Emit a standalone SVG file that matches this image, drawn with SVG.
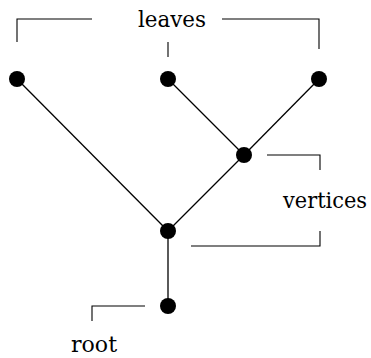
<svg xmlns="http://www.w3.org/2000/svg" width="371" height="358" viewBox="0 0 371 358">
<style>
.e{stroke:#000;stroke-width:1.3;fill:none}
.b{stroke:#000;stroke-width:1.1;fill:none}
.n{fill:#000}
.t{font-family:"DejaVu Serif",serif;font-size:23px;fill:#000}
</style>
<rect width="371" height="358" fill="#fff"/>
<g id="connectors">
<line class="e" x1="17" y1="79" x2="168" y2="231"/>
<line class="e" x1="168" y1="79" x2="244" y2="155"/>
<line class="e" x1="319" y1="79" x2="244" y2="155"/>
<line class="e" x1="244" y1="155" x2="168" y2="231"/>
<line class="e" x1="168" y1="231" x2="168" y2="306"/>
</g>
<g id="leaf1"><circle class="n" cx="17" cy="79" r="8"/></g>
<g id="leaf2"><circle class="n" cx="168" cy="79" r="8"/></g>
<g id="leaf3"><circle class="n" cx="319" cy="79" r="8"/></g>
<g id="vertex1"><circle class="n" cx="244" cy="155" r="8"/></g>
<g id="vertex2"><circle class="n" cx="168" cy="231" r="8"/></g>
<g id="root"><circle class="n" cx="168" cy="306" r="8"/></g>
<g id="label-leaves">
<path class="b" d="M17 42V19H92M222 19H319V49M168 42V57"/>
<text class="t" x="138" y="27" textLength="68" lengthAdjust="spacingAndGlyphs">leaves</text>
</g>
<g id="label-vertices">
<path class="b" d="M267 155H320V170M320 231V246H191"/>
<text class="t" x="283" y="208" textLength="84" lengthAdjust="spacingAndGlyphs">vertices</text>
</g>
<g id="label-root">
<path class="b" d="M145 306H92V321"/>
<text class="t" x="71" y="352" textLength="46" lengthAdjust="spacingAndGlyphs">root</text>
</g>
</svg>
